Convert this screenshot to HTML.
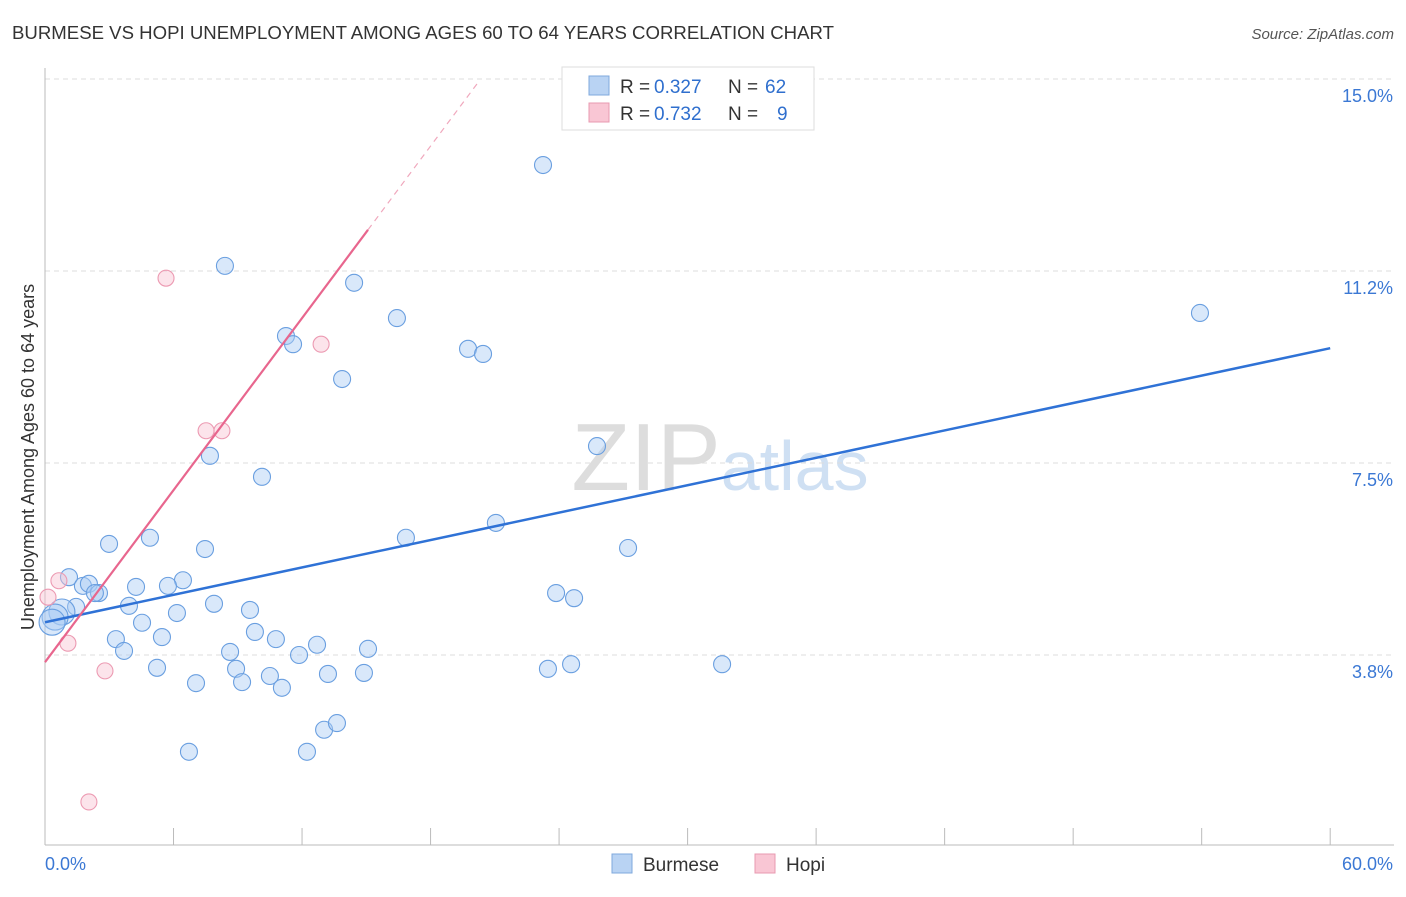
<!DOCTYPE html>
<html><head><meta charset="utf-8"><style>
body{margin:0;background:#fff;font-family:"Liberation Sans",sans-serif;}
svg text{font-family:"Liberation Sans",sans-serif;}
</style></head><body>
<svg id="c" width="1406" height="892">
<text x="12" y="39" font-size="18" fill="#333" textLength="822" lengthAdjust="spacingAndGlyphs">BURMESE VS HOPI UNEMPLOYMENT AMONG AGES 60 TO 64 YEARS CORRELATION CHART</text>
<text x="1394" y="39" font-size="15" fill="#555" font-style="italic" text-anchor="end">Source: ZipAtlas.com</text>
<text x="720" y="490" font-size="96" fill="#ddd" text-anchor="middle" font-family="Liberation Serif">ZIP<tspan fill="#cfe0f3" font-family="Liberation Sans" font-size="70">atlas</tspan></text>
<text transform="translate(34,457) rotate(-90)" font-size="18" fill="#333" text-anchor="middle">Unemployment Among Ages 60 to 64 years</text>
<g id="grid"></g><g id="pts"></g><g id="lines"></g>
<g>
<rect x="562" y="67" width="252" height="63" fill="#fff" stroke="#ddd"/>
<rect x="589" y="76" width="20" height="19" fill="#b9d3f3" stroke="#7fa8dd"/>
<rect x="589" y="103" width="20" height="19" fill="#f9c6d4" stroke="#e89ab0"/>
<text x="620" y="93" font-size="19" fill="#333">R =</text>
<text x="654" y="93" font-size="19" fill="#2f6fce">0.327</text>
<text x="728" y="93" font-size="19" fill="#333">N =</text>
<text x="765" y="93" font-size="19" fill="#2f6fce">62</text>
<text x="620" y="120" font-size="19" fill="#333">R =</text>
<text x="654" y="120" font-size="19" fill="#2f6fce">0.732</text>
<text x="728" y="120" font-size="19" fill="#333">N =</text>
<text x="777" y="120" font-size="19" fill="#2f6fce">9</text>
</g>
<g>
<rect x="612" y="854" width="20" height="19" fill="#b9d3f3" stroke="#7fa8dd"/>
<text x="643" y="871" font-size="19" fill="#333">Burmese</text>
<rect x="755" y="854" width="20" height="19" fill="#f9c6d4" stroke="#e89ab0"/>
<text x="786" y="871" font-size="19" fill="#333">Hopi</text>
</g>
</svg>
<script>
const yTicks=[3.75,7.5,11.25,15];
const yTickLabels=["3.8%","7.5%","11.2%","15.0%"];
const xTicks=[0,6,12,18,24,30,36,42,48,54,60];
const burmeseX=[23.25,8.40,14.43,16.43,53.92,11.25,11.58,19.75,20.45,13.87,25.77,7.70,10.13,21.05,16.85,4.90,2.99,7.47,27.22,1.12,6.44,4.25,5.74,1.77,2.05,2.52,23.86,24.70,1.45,3.92,7.89,9.57,6.16,0.79,0.47,0.33,4.53,3.31,5.46,10.78,9.80,12.70,15.08,3.69,8.64,11.86,5.23,8.92,23.48,24.56,31.61,10.50,13.21,14.89,7.05,9.20,11.06,13.03,13.63,6.72,12.23,2.33];
const burmeseY=[13.32,11.35,11.02,10.33,10.43,9.98,9.82,9.73,9.63,9.14,7.83,7.64,7.23,6.33,6.04,6.04,5.92,5.82,5.84,5.27,5.21,5.08,5.10,5.10,5.14,4.96,4.96,4.86,4.69,4.71,4.75,4.63,4.57,4.59,4.49,4.39,4.38,4.06,4.10,4.06,4.20,3.95,3.87,3.83,3.81,3.75,3.50,3.48,3.48,3.57,3.57,3.34,3.38,3.40,3.20,3.22,3.11,2.29,2.42,1.86,1.86,4.96];
const hopiX=[5.65,12.89,7.52,8.26,0.65,0.14,1.07,2.80,2.05];
const hopiY=[11.11,9.82,8.13,8.13,5.20,4.88,3.98,3.44,0.88];
const burmeseTrend=[4.39,0.0892]; // intercept, slope
const hopiTrend=[3.61,0.56];
const X=v=>45+v*21.42, Y=v=>847-v*51.2;
const NS="http://www.w3.org/2000/svg";
function mk(p,t,a){const e=document.createElementNS(NS,t);for(const k in a)e.setAttribute(k,a[k]);p.appendChild(e);return e;}
const grid=document.getElementById('grid');
yTicks.forEach((v,i)=>{
 const l=mk(grid,'line',{x1:45,x2:1394,y1:Y(v),y2:Y(v),stroke:'#ddd','stroke-dasharray':'5,4'});
 
 
 const t=mk(grid,'text',{x:1393,y:Y(v)+23,'font-size':18,fill:'#3b78d4','text-anchor':'end'});t.textContent=yTickLabels[i];
 
 
});
mk(grid,'line',{x1:45,x2:45,y1:68,y2:845,stroke:'#bbb'});
mk(grid,'line',{x1:45,x2:1394,y1:845,y2:845,stroke:'#bbb'});
xTicks.forEach(v=>{const l=mk(grid,'line',{x1:X(v),x2:X(v),y1:828,y2:845,stroke:'#bbb'});
 
 });
let t=mk(grid,'text',{x:45,y:870,'font-size':18,fill:'#3b78d4'});t.textContent='0.0%';

t=mk(grid,'text',{x:1393,y:870,'font-size':18,fill:'#3b78d4','text-anchor':'end'});t.textContent='60.0%';

const pts=document.getElementById('pts');
burmeseX.forEach((x,i)=>{const c=mk(pts,'circle',{cx:X(x),cy:Y(burmeseY[i]),r:(x<1?13:8.5),fill:'rgba(170,204,243,0.45)',stroke:'#6a9fe0','stroke-width':1.1});
 
 });
hopiX.forEach((x,i)=>{const c=mk(pts,'circle',{cx:X(x),cy:Y(hopiY[i]),r:8,fill:'rgba(248,196,210,0.45)',stroke:'#ec9ab2','stroke-width':1.1});
 
 });
const lines=document.getElementById('lines');
let l=mk(lines,'line',{x1:X(0),y1:Y(burmeseTrend[0]),x2:X(60),y2:Y(burmeseTrend[0]+60*burmeseTrend[1]),stroke:'#2f72d6','stroke-width':2.5});


l=mk(lines,'line',{x1:X(0),y1:Y(hopiTrend[0]),x2:X(15.08),y2:Y(hopiTrend[0]+15.08*hopiTrend[1]),stroke:'#e8668e','stroke-width':2.2});


l=mk(lines,'line',{x1:X(15.08),y1:Y(hopiTrend[0]+15.08*hopiTrend[1]),x2:X(20.2),y2:Y(hopiTrend[0]+20.2*hopiTrend[1]),stroke:'#f0a8bd','stroke-width':1.2,'stroke-dasharray':'6,5'});


</script>
</body></html>
